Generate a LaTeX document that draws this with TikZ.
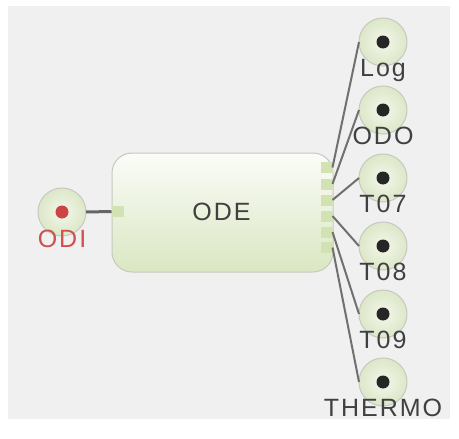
\documentclass[tikz,border=0pt]{standalone}
\usepackage{fontspec}
\setmainfont{Liberation Sans}
\newfontfamily\lblfont[LetterSpace=8]{Liberation Sans}
\definecolor{bgray}{HTML}{F0F0F0}
\definecolor{edgegray}{HTML}{C6CABE}
\definecolor{boxtop}{HTML}{FBFCF8}
\definecolor{boxbot}{HTML}{DAE7C2}
\definecolor{portgreen}{HTML}{D3E2B3}
\definecolor{circin}{HTML}{F3F7EA}
\definecolor{circout}{HTML}{DCE7C8}
\definecolor{conngray}{HTML}{707070}
\definecolor{txtgray}{HTML}{404040}
\definecolor{dotgray}{HTML}{262626}
\definecolor{reddot}{HTML}{CC4444}
\definecolor{redtxt}{HTML}{D05050}
\begin{document}
\begin{tikzpicture}[x=1pt,y=-1pt,
  odebox/.style={draw=edgegray, line width=1pt, rounded corners=20pt, minimum width=221pt, minimum height=119pt, top color=boxtop, bottom color=boxbot, inner sep=0pt},
  portbox/.style={fill=portgreen, minimum width=12pt, minimum height=11pt, inner sep=0pt, outer sep=0pt},
  term/.style={circle, draw=edgegray, line width=1pt, inner color=circin, outer color=circout, minimum size=48pt, inner sep=0pt, outer sep=0pt},
  dotmark/.style={circle, fill=dotgray, minimum size=13pt, inner sep=0pt},
  reddotmark/.style={circle, fill=reddot, minimum size=13pt, inner sep=0pt},
  lbl/.style={font=\lblfont\fontsize{25}{29}\selectfont, text=txtgray, inner sep=0pt, anchor=base},
  conn/.style={draw=conngray, line width=2pt},
]
\useasboundingbox (0,0) rectangle (459,439);
\fill[white] (0,0) rectangle (459,439);
\fill[bgray] (8,6) rectangle (450,419);

% main block
\node[odebox] (ode) at (222.5,212.5) {};
\node[lbl] (odetext) at (221.5,220.5) {ODE};
\node[portbox] (inport) at (117.5,211.5) {};
\node[portbox] (p1) at (326.5,167.5) {};
\node[portbox] (p2) at (326.5,184) {};
\node[portbox] (p3) at (326.5,200) {};
\node[portbox] (p4) at (326.5,216) {};
\node[portbox] (p5) at (326.5,232) {};
\node[portbox] (p6) at (326.5,247.5) {};

% input terminal
\node[term] (odi) at (62,212) {};
\node[reddotmark] (odidot) at (odi.center) {};

% output terminals
\node[term] (log) at (383,42) {};
\node[term] (odo) at (383,110) {};
\node[term] (t07) at (383,178) {};
\node[term] (t08) at (383,246) {};
\node[term] (t09) at (383,314) {};
\node[term] (thermo) at (383,382) {};

% connectors
\draw[conn, line width=3pt, draw=conngray!90!black] (odi.east) -- (inport.west);
\draw[conn] (p1.east) -- (log.west);
\draw[conn] (p2.east) -- (odo.west);
\draw[conn] (p3.east) -- (t07.west);
\draw[conn] (p4.east) -- (t08.west);
\draw[conn] (p5.east) -- (t09.west);
\draw[conn] (p6.east) -- (thermo.west);

\foreach \n in {log,odo,t07,t08,t09,thermo} {
  \node[dotmark] (\n dot) at (\n.center) {};
}

\node[lbl, text=redtxt] (oditext) at (62,247) {ODI};
\node[lbl] (logtext) at (383,76) {Log};
\node[lbl] (odotext) at (383,144) {ODO};
\node[lbl] (t07text) at (383,212) {T07};
\node[lbl] (t08text) at (383,280) {T08};
\node[lbl] (t09text) at (383,348) {T09};
\node[lbl] (thermotext) at (383,416) {THERMO};
\end{tikzpicture}
\end{document}
